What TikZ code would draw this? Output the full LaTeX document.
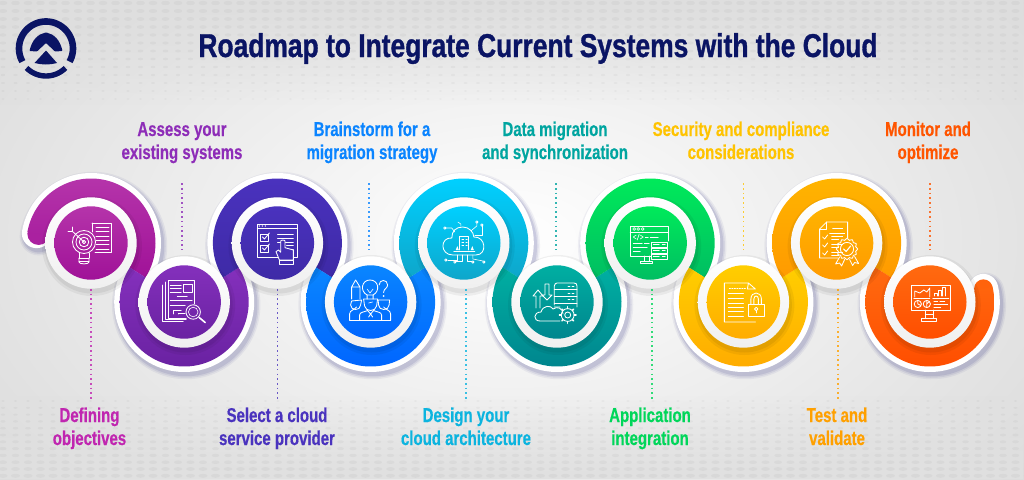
\documentclass[tikz,border=0pt]{standalone}
\usepackage{fontspec}
\usetikzlibrary{fadings,calc}
\newfontfamily\labfont[FakeStretch=0.75,BoldFeatures={FakeBold=0.4}]{Liberation Sans}
\newfontfamily\titfont[FakeStretch=0.80,BoldFeatures={FakeBold=1}]{Liberation Sans}
\definecolor{navy}{HTML}{0A1464}
\newcommand{\twolines}[2]{\rule{0pt}{15pt}#1\\#2\rule[-5pt]{0pt}{5pt}}
\tikzset{
  whitedisc/.style={circle,inner sep=0pt,minimum size=91.4pt,top color=white,bottom color=black!6},
  colordisc/.style={circle,inner sep=0pt,minimum size=73.4pt},
  steplab/.style={font=\labfont\bfseries\fontsize{20}{23}\selectfont,align=center,inner sep=0pt},
  leader/.style={line width=1.8pt,dash pattern=on 1.6pt off 3.1pt,draw opacity=.8},
  iconline/.style={white,line width=.85pt,line cap=round,line join=round},
  thin line/.style={line width=.6pt}
}
% colours: labels, band/disc top, band/disc bottom
\definecolor{la}{HTML}{C026B0}\definecolor{ta}{HTML}{B534AA}\definecolor{ba}{HTML}{A01298}
\definecolor{lb}{HTML}{8E2DB8}\definecolor{tb}{HTML}{8430BC}\definecolor{bb}{HTML}{6A22A2}
\definecolor{lc}{HTML}{4A33BE}\definecolor{tc}{HTML}{4A32BE}\definecolor{bc}{HTML}{3E2AA6}
\definecolor{ld}{HTML}{0A84FF}\definecolor{td}{HTML}{0A86FF}\definecolor{bd}{HTML}{0066FF}
\definecolor{le}{HTML}{0CB4DF}\definecolor{te}{HTML}{00D0FF}\definecolor{be}{HTML}{0EA6CA}
\definecolor{lf}{HTML}{00A5A0}\definecolor{tf}{HTML}{00AFA2}\definecolor{bf}{HTML}{00868E}
\definecolor{lg}{HTML}{00D65A}\definecolor{tg}{HTML}{00EA5A}\definecolor{bg}{HTML}{00BE62}
\definecolor{lh}{HTML}{FFC300}\definecolor{th}{HTML}{FFCE00}\definecolor{bh}{HTML}{FFAC00}
\definecolor{li}{HTML}{FFA000}\definecolor{ti}{HTML}{FFB400}\definecolor{bi}{HTML}{FF9A00}
\definecolor{lj}{HTML}{FF5500}\definecolor{tj}{HTML}{FF6A10}\definecolor{bj}{HTML}{FF4E00}
\newcommand{\strokeband}[5][]{\draw[#1] plot[domain=#4:#5,samples=70,smooth] ({#2+55.25*cos(\x)},{#3+55.25*sin(\x)});}
\newcommand{\fillband}[6]{\shade[top color=#5,bottom color=#6] plot[domain=#3:#4,samples=70] ({#1+64.5*cos(\x)},{#2+64.5*sin(\x)}) -- plot[domain=#4:#3,samples=70] ({#1+42*cos(\x)},{#2+42*sin(\x)}) -- cycle;}
\begin{document}
\begin{tikzpicture}[x=1pt,y=-1pt]
\useasboundingbox (0,0) rectangle (1024,479);
% background
\fill[white] (0,0) rectangle (1024,479);
\shade[inner color=white,middle color=white,outer color=black!15] (-190,-180) rectangle (1214,659);
\fill[black!13,path fading=south] (0,0) rectangle (1024,105);
\fill[black!12,path fading=north] (0,395) rectangle (1024,479);
\foreach \r in {0,...,12}{
  \pgfmathsetmacro{\yy}{3+8*\r}
  \pgfmathsetmacro{\ry}{2.1-0.11*\r}
  \pgfmathsetmacro{\rx}{4.4-0.24*\r}
  \foreach \c in {0,...,82}{
    \fill[black,opacity=.03] ({3+12.5*\c},\yy) ellipse[x radius=\rx,y radius=\ry];
  }
}
\foreach \r in {0,...,11}{
  \pgfmathsetmacro{\yy}{401+6.8*\r}
  \pgfmathsetmacro{\ry}{0.9+0.1*\r}
  \pgfmathsetmacro{\rx}{1.8+0.25*\r}
  \foreach \c in {0,...,82}{
    \fill[black,opacity=.03] ({3+12.5*\c},\yy) ellipse[x radius=\rx,y radius=\ry];
  }
}
% logo
\draw[navy,line width=6.6pt] plot[domain=151:389,samples=50] ({46+27*cos(\x)},{48.5+27*sin(\x)});
\draw[navy,line width=5.4pt] plot[domain=135:45,samples=30] ({46+27.5*cos(\x)},{48.5+27.5*sin(\x)});
\fill[navy,rounded corners=.8pt] (29.5,51) .. controls (32,40) and (38,34) .. (46,32.5) .. controls (54,34) and (60,40) .. (62.5,51) -- (55,51.5) -- (46,43) -- (37,51.5) -- cycle;
\fill[navy] (34.5,63) -- (46,50.5) -- (57,63) .. controls (50,65) and (42,65) .. (34.5,63) -- cycle;
% title
\node[font=\titfont\bfseries\fontsize{33}{36}\selectfont,text=navy,inner sep=0pt,anchor=base] (title) at (538,57) {Roadmap to Integrate Current Systems with the Cloud};
% labels
\node[steplab,text=la] (t1) at (89.5,428.5) {\twolines{Defining}{objectives}};
\node[steplab,text=lb] (t2) at (182,142.5) {\twolines{Assess your}{existing systems}};
\node[steplab,text=lc] (t3) at (277,428.5) {\twolines{Select a cloud}{service provider}};
\node[steplab,text=ld] (t4) at (372,142.5) {\twolines{Brainstorm for a}{migration strategy}};
\node[steplab,text=le] (t5) at (466,428.5) {\twolines{Design your}{cloud architecture}};
\node[steplab,text=lf] (t6) at (555,142.5) {\twolines{Data migration}{and synchronization}};
\node[steplab,text=lg] (t7) at (650,428.5) {\twolines{Application}{integration}};
\node[steplab,text=lh] (t8) at (741,142.5) {\twolines{Security and compliance}{considerations}};
\node[steplab,text=li] (t9) at (837,428.5) {\twolines{Test and}{validate}};
\node[steplab,text=lj] (t10) at (928,142.5) {\twolines{Monitor and}{optimize}};
% band outlines
\foreach \dx/\dy/\w/\o in {2/3/38/.05,2/3/35/.07,2/3/32/.09}{
 \begin{scope}[shift={(\dx,\dy)},line width=\w pt,draw=black!60!blue,draw opacity=\o]
  \strokeband[line cap=round]{91}{243}{190}{392.4}
  \strokeband{184.2}{302}{212.4}{-32.4}
  \strokeband{277.4}{243}{147.6}{392.4}
  \strokeband{370.6}{302}{212.4}{-32.4}
  \strokeband{463.8}{243}{147.6}{392.4}
  \strokeband{557}{302}{212.4}{-32.4}
  \strokeband{650.2}{243}{147.6}{392.4}
  \strokeband{743.4}{302}{212.4}{-32.4}
  \strokeband{836.6}{243}{147.6}{392.4}
  \strokeband[line cap=round]{929.8}{302}{212.4}{-14}
 \end{scope}
}
\begin{scope}[line width=29.5pt,draw=white]
  \strokeband[line cap=round]{91}{243}{190}{392.4}
  \strokeband{184.2}{302}{212.4}{-32.4}
  \strokeband{277.4}{243}{147.6}{392.4}
  \strokeband{370.6}{302}{212.4}{-32.4}
  \strokeband{463.8}{243}{147.6}{392.4}
  \strokeband{557}{302}{212.4}{-32.4}
  \strokeband{650.2}{243}{147.6}{392.4}
  \strokeband{743.4}{302}{212.4}{-32.4}
  \strokeband{836.6}{243}{147.6}{392.4}
  \strokeband[line cap=round]{929.8}{302}{212.4}{-14}
\end{scope}
% colour bands
\fill[ba!55!ta] ({91+53.25*cos(190)},{243+53.25*sin(190)}) circle[radius=11.2];
\fill[bj!25!tj] ({929.8+55.25*cos(-14)},{302+55.25*sin(-14)}) circle[radius=9.3];
\fillband{91}{243}{190}{392.4}{ta}{ba}
\fillband{184.2}{302}{212.4}{-32.4}{tb}{bb}
\fillband{277.4}{243}{147.6}{392.4}{tc}{bc}
\fillband{370.6}{302}{212.4}{-32.4}{td}{bd}
\fillband{463.8}{243}{147.6}{392.4}{te}{be}
\fillband{557}{302}{212.4}{-32.4}{tf}{bf}
\fillband{650.2}{243}{147.6}{392.4}{tg}{bg}
\fillband{743.4}{302}{212.4}{-32.4}{th}{bh}
\fillband{836.6}{243}{147.6}{392.4}{ti}{bi}
\fillband{929.8}{302}{212.4}{-14}{tj}{bj}
% disc shadows and discs
\foreach \n/\cx/\cy/\ctop/\cbot in {1/91/243/ta/ba,2/184.2/302/tb/bb,3/277.4/243/tc/bc,4/370.6/302/td/bd,5/463.8/243/te/be,6/557/302/tf/bf,7/650.2/243/tg/bg,8/743.4/302/th/bh,9/836.6/243/ti/bi,10/929.8/302/tj/bj}{
  \fill[black,opacity=.05] (\cx+1,\cy+3) circle[radius=50];
  \fill[black,opacity=.06] (\cx+1,\cy+3) circle[radius=47.5];
  \node[whitedisc] (c\n) at (\cx,\cy) {};
  \node[colordisc,top color=\ctop,bottom color=\cbot] (d\n) at (\cx,\cy) {};
}
% leaders
\draw[leader,lb,shorten <=19pt,shorten >=6pt] ([xshift=-2pt]c2.north |- t2.south) -- ([xshift=-2pt]c2.north);
\draw[leader,ld,shorten <=19pt,shorten >=6pt] ([xshift=-2pt]c4.north |- t4.south) -- ([xshift=-2pt]c4.north);
\draw[leader,lf,shorten <=19pt,shorten >=6pt] ([xshift=-1pt]c6.north |- t6.south) -- ([xshift=-1pt]c6.north);
\draw[leader,lh,shorten <=19pt,shorten >=6pt] (c8.north |- t8.south) -- (c8.north);
\draw[leader,lj,shorten <=19pt,shorten >=6pt] (c10.north |- t10.south) -- (c10.north);
\draw[leader,la,shorten >=8pt] (c1.south) -- (c1.south |- t1.north);
\draw[leader,lc,shorten >=8pt] (c3.south) -- (c3.south |- t3.north);
\draw[leader,le,shorten >=8pt] ([xshift=2pt]c5.south) -- ([xshift=2pt]c5.south |- t5.north);
\draw[leader,lg,shorten >=8pt] ([xshift=2pt]c7.south) -- ([xshift=2pt]c7.south |- t7.north);
\draw[leader,li,shorten >=8pt] ([xshift=1pt]c9.south) -- ([xshift=1pt]c9.south |- t9.north);
% icon 1: target bulb and list
\begin{scope}[shift={(91,243)},iconline]
  \draw (1,-20) -- (20,-20) -- (20,9) -- (4,9);
  \draw (1,-20) -- (1,-11);
  \foreach \yy in {-16,-12,-7,-3,1,6}{\draw[thin line] (5,\yy) -- (18,\yy);}
  \draw (-7,-1) circle[radius=11.5];
  \draw (-7,-1) circle[radius=8];
  \draw (-7,-1) circle[radius=4.8];
  \draw (-7,-1) circle[radius=1.8];
  \draw (-7,-1) -- (-19,-12);
  \draw (-19,-12) -- (-23,-12) (-19,-12) -- (-19,-16);
  \draw (-12,10) -- (-12,15) (-2,10) -- (-2,15);
  \draw (-12,15) -- (-2,15) (-12,18) -- (-2,18);
  \draw (-12,15) -- (-12,19) .. controls (-12,21.5) and (-2,21.5) .. (-2,19) -- (-2,15);
\end{scope}
% icon 2: documents and magnifier
\begin{scope}[shift={(184.2,302)},iconline]
  \draw (2,16) -- (-16,16) -- (-16,-22) -- (10,-22) -- (10,2);
  \draw (-19,-20) -- (-19,17.5) -- (2,17.5);
  \draw (-22,-17) -- (-22,19.5) -- (-1,19.5);
  \foreach \yy in {-17,-14,-10}{\draw[thin line] (-14,\yy) -- (-3,\yy);}
  \draw (-1,-18) rectangle (8,-10);
  \draw[thin line] (-7,-6) -- (3,-6) (-14,-2) -- (8,-2) (-14,3) -- (1,3);
  \draw[thin line] (-11,12) -- (-11,8) -- (-3,8) (-6,12) -- (-6,11) -- (1,11);
  \draw (9,10) circle[radius=7.2];
  \draw[thin line] (9,10) circle[radius=4.8];
  \draw[line width=1.6pt] (15,15.5) -- (21,20.5);
\end{scope}
% icon 3: window, checkboxes and hand
\begin{scope}[shift={(277.4,243)},iconline]
  \draw (-20,-19) rectangle (20,14);
  \draw (-20,-15) -- (20,-15);
  \foreach \xx in {-18,-15,-12}{\fill[white] (\xx,-17) circle[radius=.7];}
  \draw (-17,-9) rectangle (-9,-2);
  \draw (-17,2) rectangle (-9,9);
  \draw (-15,-6) -- (-13,-4) -- (-8,-10);
  \draw (-15,5) -- (-13,7) -- (-8,1);
  \foreach \yy in {-9,-5,-1}{\draw[thin line] (0,\yy) -- (16,\yy);}
  \draw[thin line] (9,2) -- (16,2) (9,6) -- (16,6);
  \draw[fill=tc!60!bc] (2,17) -- (-1.4,8.7) -- (1,7) -- (3.3,9.3) -- (3.3,-2) .. controls (3.3,-3.2) and (7.6,-3.2) .. (7.6,-2) -- (7.6,4.7) -- (16,7) -- (16,17) -- cycle;
  \draw[fill=tc!50!bc] (2,17) rectangle (16,21);
\end{scope}
% icon 4: pencil, bulb, question mark, people
\begin{scope}[shift={(370.6,302)},iconline]
  \draw (-19,-15) -- (-15,-22) -- (-10.6,-15) -- (-10.6,-3) (-19,-15) -- (-19,-3) (-19,-15) -- (-10.6,-15);
  \draw (-3.5,-3) -- (-3.5,-7) .. controls (-11,-11) and (-9,-22) .. (-0.6,-22) .. controls (8,-22) and (10,-11) .. (2.5,-7) -- (2.5,-3);
  \draw[thin line] (-3.5,-7) -- (2.5,-7) (-3.5,-13) -- (-.6,-9) -- (2.5,-13);
  \draw (8.5,-17) .. controls (8.5,-23) and (17,-23) .. (17,-17) .. controls (17,-13.5) and (13,-13.5) .. (13,-9.5);
  \fill[white] (13,-6) circle[radius=.9];
  \draw (-21,18) -- (-21,12) .. controls (-21,8) and (-16,8) .. (-14,5);
  \draw (-19,-1) -- (-20,3) .. controls (-20,9) and (-10,9) .. (-10,3) -- (-9,-2) -- cycle;
  \draw (20,18) -- (20,12) .. controls (20,8) and (15,8) .. (13,5);
  \draw (19,-2) -- (18.5,3) .. controls (18.5,9) and (8,9) .. (8,3) -- (7.5,-2) -- cycle;
  \draw (-7,-3) -- (7,-3) -- (6,4) .. controls (5,10) and (-5,10) .. (-6,4) -- cycle;
  \draw[thin line] (-2,1) -- (2,0);
  \draw (-21,18) -- (20,18);
  \draw (-11,18) -- (-11,13) .. controls (-11,10) and (-6,10) .. (-3,8.5);
  \draw (11,18) -- (11,13) .. controls (11,10) and (6,10) .. (3,8.5);
  \draw (-3,8.5) -- (0,12) -- (3,8.5) (0,12) -- (-2,15) (0,12) -- (2,15);
\end{scope}
% icon 5: cloud with circuit
\begin{scope}[shift={(463.8,243)},iconline]
  \draw (-11,12) .. controls (-24,12) and (-24,-6) .. (-12,-5) .. controls (-12,-12) and (-8,-16) .. (-1,-16) .. controls (5,-16) and (10,-11) .. (10,-6) .. controls (22,-7) and (24,12) .. (12,12) -- cycle;
  \draw (-4,7) -- (-4,-7) -- (5,-7) -- (5,7);
  \foreach \yy in {-4,-1,2}{\draw[thin line] (-2,\yy) -- (0,\yy) (2,\yy) -- (3.5,\yy);}
  \draw (-10,8) -- (11,8);
  \fill[white] (-8,7) -- (-6.5,3) -- (-5,7) -- cycle (7,7) -- (8.5,3) -- (10,7) -- cycle;
  \draw[thin line] (-18,-15) -- (-12,-15) -- (-9,-11);
  \draw (-19,-15) circle[radius=1.2];
  \draw[thin line] (-3,-17) -- (-3,-19) -- (-6,-21);
  \draw[thin line] (7,-12) -- (13,-17) -- (13,-20);
  \draw (13,-21) circle[radius=1.2];
  \draw[thin line] (11,-8) -- (18,-8) -- (18,-17);
  \draw (18,-18) circle[radius=1.2];
  \draw[thin line] (-7,12) -- (-7,17) -- (-16,17);
  \draw (-18,17) circle[radius=1.2];
  \draw[thin line] (-2,12) -- (-2,18) -- (-8,18);
  \draw (-9,19) circle[radius=1.2];
  \draw[thin line] (9,12) -- (9,16) -- (19,18);
  \draw (20,19) circle[radius=1.2];
  \draw[thin line] (3,12) -- (3,18) -- (8,18);
  \draw (9,19) circle[radius=1.2];
\end{scope}
% icon 6: server, arrows, cloud, gear
\begin{scope}[shift={(557,302)},iconline]
  \draw (3,5) -- (-2.7,5) (-2.7,3) -- (-2.7,-16) .. controls (-2.7,-18) and (-1,-19) .. (0,-19) -- (17,-19) .. controls (19,-19) and (20,-18) .. (20,-16) -- (20,5);
  \foreach \yy in {-13,-6,1}{\draw (-2.7,\yy) -- (20,\yy);}
  \foreach \yy in {-16,-9,-3}{\draw[thin line] (11,\yy) -- (13,\yy) (15,\yy) -- (17,\yy);}
  \draw (-21,6) -- (-21,-6) -- (-24,-6) -- (-19,-12) -- (-14,-6) -- (-17,-6) -- (-17,6);
  \draw (-12,-18) -- (-12,-7) -- (-15,-7) -- (-10,-2) -- (-5,-7) -- (-8,-7) -- (-8,-18) -- cycle;
  \draw (3,19) -- (-17,19) .. controls (-24,19) and (-24,10) .. (-16,10) .. controls (-14,3) and (-6,3) .. (-4,7) .. controls (0,4) and (6,6) .. (6,12);
  \foreach \a in {0,45,...,315}{\draw[line width=1.5pt] ({10.7+6.5*cos(\a)},{13+6.5*sin(\a)}) -- ({10.7+8.3*cos(\a)},{13+8.3*sin(\a)});}
  \draw (10.7,13) circle[radius=6.4];
  \draw (10.7,13) circle[radius=3];
\end{scope}
% icon 7: code window and stack
\begin{scope}[shift={(650.2,243)},iconline]
  \draw (1,13) -- (-20,13) -- (-20,-17) -- (18.5,-17) -- (18.5,-2);
  \draw (-20,-11) -- (18.5,-11);
  \foreach \xx in {-16,-12,-7.5}{\draw[thin line] (\xx,-14) circle[radius=1.4];}
  \draw[thin line] (-14,-8) -- (-17,-6) -- (-14,-4) (-11,-9) -- (-13,-3) (-10,-8) -- (-7,-6) -- (-10,-4);
  \draw[thin line] (-5,-6) -- (-2,-6) (0,-6) -- (8,-6);
  \draw[thin line] (-17,0) -- (-8,0) (-6,0) -- (-1,0) (-17,4) -- (-3,4) (-17,8) -- (-10,8);
  \foreach \yy in {-1,5,11}{\draw (1,\yy) rectangle (17,{\yy+5.2});\draw[thin line] (3,{\yy+2.6}) -- (9,{\yy+2.6}) (12,{\yy+2.6}) -- (15,{\yy+2.6});}
  \draw (-6,13) -- (-6,18) (-1,13) -- (-1,18);
  \draw (-10,18) rectangle (2,20.5);
\end{scope}
% icon 8: document and lock
\begin{scope}[shift={(743.4,302)},iconline]
  \draw (12,20) -- (-19,20) -- (-19,-19) -- (5,-19) -- (12,-13) -- (4,-13) -- (5,-19);
  \draw[dash pattern=on 1pt off 1.5pt] (-14,-14) -- (2,-14);
  \foreach \yy in {-9,-4,1,5,9,14}{\draw (-15,\yy) -- (0,\yy);}
  \draw (4.6,2) rectangle (21,14);
  \draw (7.5,2) -- (7.5,-3) .. controls (7.5,-11) and (18,-11) .. (18,-3) -- (18,2);
  \draw (10.5,2) -- (10.5,-3) .. controls (10.5,-7) and (15,-7) .. (15,-3) -- (15,2);
  \draw (12.8,7) circle[radius=1.7];
  \draw (12.8,8.7) -- (12.8,11);
\end{scope}
% icon 9: checklist and badge
\begin{scope}[shift={(836.6,243)},iconline]
  \draw (1,15) -- (-17,15) -- (-17,-14) -- (-10,-21) -- (11,-21) -- (11,-5);
  \draw (-17,-14) -- (-10,-14) -- (-10,-21);
  \draw[thin line] (-4,-15) -- (6,-15) (-7,-10) -- (8,-10);
  \foreach \yy in {-6,2,10}{\draw (-14,\yy) -- (-12,{\yy+2}) -- (-9,{\yy-2});\draw[thin line] (-5,{\yy-1}) -- (6,{\yy-1}) (-5,{\yy+2}) -- (2,{\yy+2});}
  \draw plot[domain=0:360,samples=49,smooth cycle] ({10.4+(9.8+.9*cos(12*\x))*cos(\x)},{6+(9.8+.9*cos(12*\x))*sin(\x)});
  \draw (10.4,6) circle[radius=6.6];
  \draw[line width=1.1pt] (7,6) -- (9.5,8.5) -- (14,3);
  \draw (3,14) -- (-1,21) -- (3,20) -- (5,23) -- (8,16.5);
  \draw (13,16.5) -- (16,22.5) -- (18,19.5) -- (22,20.5) -- (18,13.5);
\end{scope}
% icon 10: dashboard monitor
\begin{scope}[shift={(929.8,302)},iconline]
  \draw (-18,-17) rectangle (21,8);
  \draw (-4.5,8) -- (-4.5,16) (3.5,8) -- (3.5,16) (-4.5,12) -- (3.5,12);
  \draw (-8,16) rectangle (7,19);
  \draw (-15,-5) -- (-15,-11) -- (-10,-9) -- (-6,-12) -- (-3,-10) -- (0,-14) -- (0,-5);
  \draw (5,-6) -- (5,-9) -- (8,-9) -- (8,-6) (9,-6) -- (9,-12) -- (12,-12) -- (12,-6) (13,-6) -- (13,-15) -- (16,-15) -- (16,-6);
  \draw (-16,-4) -- (0,-4) (3,-4) -- (19,-4);
  \draw (-12,2) circle[radius=3.6];
  \draw (-12,2) -- (-12,-1.6) (-12,2) -- (-9,3.5);
  \draw (-3,2) circle[radius=3.6];
  \draw (-3,2) -- (-3,-1.6) (-3,2) -- (-.5,-.5) (-3,2) -- (-3,5.6);
  \draw[thin line] (4,-1) -- (8,-1) (10,-1) -- (15,-1) (4,2) -- (18,2) (4,5) -- (11,5);
\end{scope}
\end{tikzpicture}
\end{document}
